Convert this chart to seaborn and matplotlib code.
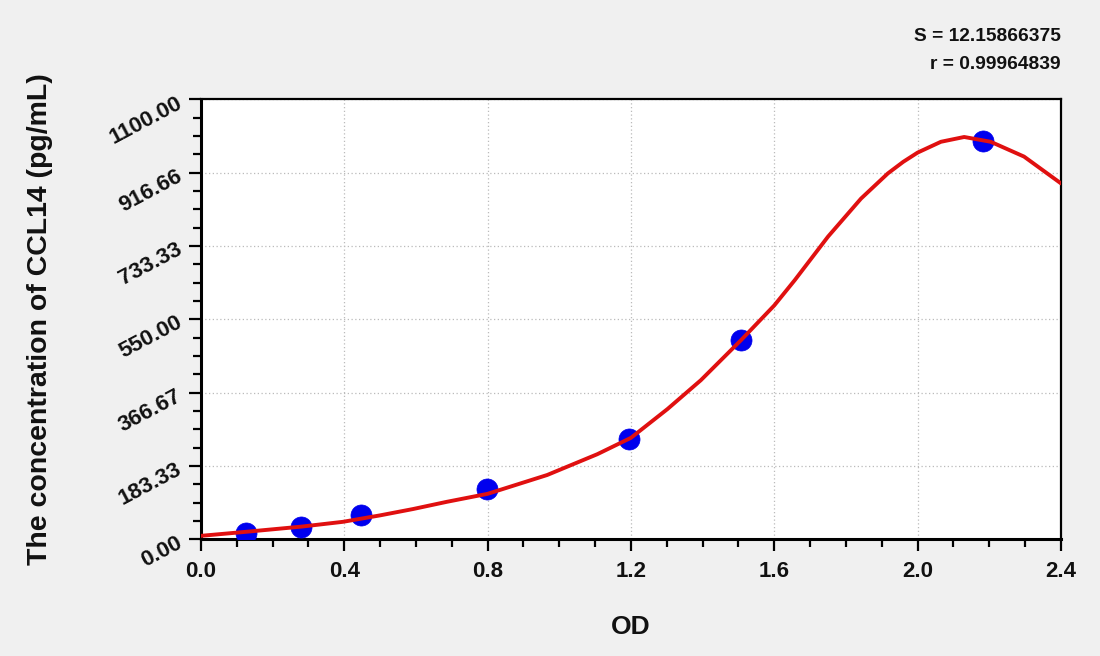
import numpy as np
import pandas as pd
import matplotlib
matplotlib.use("Agg")
import matplotlib.pyplot as plt
import seaborn as sns
from matplotlib.ticker import MultipleLocator, FixedLocator

# Standard points (OD vs concentration)
od_points = [0.127, 0.28, 0.446, 0.798, 1.194, 1.507, 2.182]
conc_points = [15, 30, 61, 125, 250, 498, 997]

# Fitted curve
curve_od = [0.0, 0.125, 0.28, 0.396, 0.499, 0.592, 0.686, 0.8, 0.966, 1.106,
            1.2, 1.302, 1.395, 1.507, 1.6, 1.657, 1.75, 1.842, 1.917, 1.96,
            2.0, 2.065, 2.13, 2.204, 2.297, 2.4]
curve_conc = [9, 19, 32, 44, 60, 76, 94, 114, 161, 213,
              254, 326, 398, 498, 585, 648, 757, 852, 915, 944,
              967, 994, 1006, 994, 957, 890]

y_ticks = [0, 183.33, 366.67, 550.00, 733.33, 916.66, 1100.00]
y_tick_labels = ["0.00", "183.33", "366.67", "550.00", "733.33", "916.66", "1100.00"]
x_ticks = [0.0, 0.4, 0.8, 1.2, 1.6, 2.0, 2.4]
x_tick_labels = ["0.0", "0.4", "0.8", "1.2", "1.6", "2.0", "2.4"]

stats_text = "S = 12.15866375\nr = 0.99964839"

sns.set_style("white")
plt.rcParams['font.family'] = ['Liberation Sans', 'DejaVu Sans']

fig = plt.figure(figsize=(11, 6.56), dpi=100, facecolor="#f0f0f0")
ax = fig.add_axes([0.1827, 0.1777, 0.7818, 0.6708])
ax.set_facecolor("white")

curve_df = pd.DataFrame({"OD": curve_od, "conc": curve_conc})
pts_df = pd.DataFrame({"OD": od_points, "conc": conc_points})

# points first, the fitted curve is drawn on top of them
sns.scatterplot(data=pts_df, x="OD", y="conc", ax=ax, color="#0000ee",
                s=230, edgecolor="#0000ee", linewidth=0.5, zorder=3)
sns.lineplot(data=curve_df, x="OD", y="conc", ax=ax, color="#e01010",
             linewidth=2.8, sort=True, zorder=4)

ax.set_xlim(0, 2.4)
ax.set_ylim(0, 1100)

ax.xaxis.set_major_locator(FixedLocator(x_ticks))
ax.set_xticklabels(x_tick_labels)
ax.xaxis.set_minor_locator(MultipleLocator(0.1))
ax.yaxis.set_major_locator(FixedLocator(y_ticks))
ax.set_yticklabels(y_tick_labels, rotation=28, ha="right", rotation_mode="anchor")
ax.yaxis.set_minor_locator(MultipleLocator(1100 / 24))

ax.tick_params(axis="both", which="both", bottom=True, left=True,
               top=False, right=False)
ax.tick_params(axis="both", which="major", direction="out", length=8.5,
               width=1.6, color="black", labelsize=16)
ax.tick_params(axis="both", which="minor", direction="out", length=5.5,
               width=1.6, color="black")
ax.tick_params(axis="x", which="major", pad=7)
ax.tick_params(axis="y", which="major", pad=7)
for lbl in ax.get_xticklabels() + ax.get_yticklabels():
    lbl.set_fontweight("bold")
    lbl.set_color("#111111")

ax.grid(True, which="major", color="#bbbbbb", linestyle=(0, (1, 2)), linewidth=0.9)
ax.set_axisbelow(True)

for side in ["left", "bottom"]:
    ax.spines[side].set_linewidth(2.2)
    ax.spines[side].set_color("black")
for side in ["top", "right"]:
    ax.spines[side].set_linewidth(1.6)
    ax.spines[side].set_color("black")

ax.set_xlabel("OD", fontsize=19, fontweight="bold", labelpad=24, color="#111111")
ax.set_ylabel("The concentration of CCL14 (pg/mL)", fontsize=20.5,
              fontweight="bold", labelpad=38, color="#111111")

fig.text(0.964, 0.888, stats_text, ha="right", va="bottom", fontsize=13.8,
         fontweight="bold", color="#111111", linespacing=1.85)

plt.savefig("out.png", dpi=100, facecolor=fig.get_facecolor())
plt.close()
